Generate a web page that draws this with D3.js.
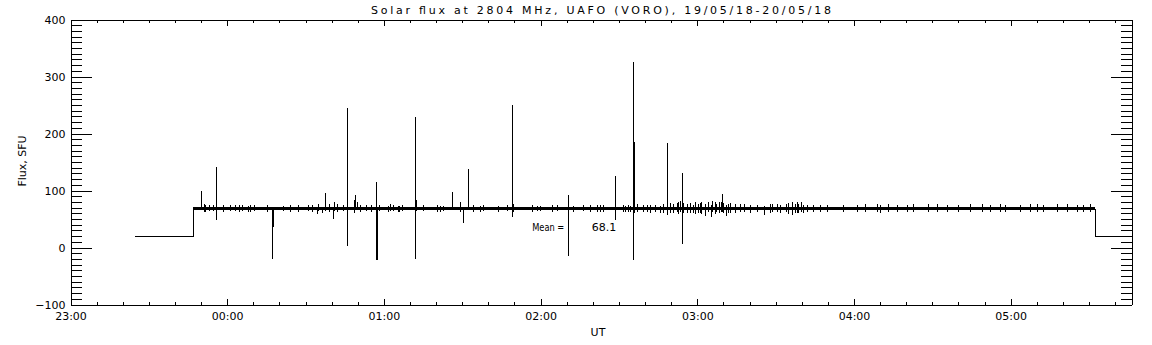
<!DOCTYPE html>
<html>
<head>
<meta charset="utf-8">
<script src="https://cdn.jsdelivr.net/npm/d3@7"></script>
<style>
html,body{margin:0;padding:0;background:#fff;}
svg{display:block;}
text{font-family:"DejaVu Sans",sans-serif;font-size:11px;fill:#000;}
</style>
</head>
<body>
<svg id="chart" width="1152" height="345"></svg>
<script>
// ---------- data ----------
const titleText = "Solar flux at 2804 MHz, UAFO (VORO),  19/05/18-20/05/18";
const xLabel = "UT";
const yLabel = "Flux, SFU";
const meanWord = "Mean =";
const meanValue = "68.1";
const xDomain = ["23:00:00", "05:46:15"];
const yDomain = [-100, 400];
const xTickLabels = ["23:00", "00:00", "01:00", "02:00", "03:00", "04:00", "05:00"];
const yTickValues = [-100, 0, 100, 200, 300, 400];

// step outline of the record
const stepTimes  = ["23:24:18", "23:46:43", "23:46:43", "05:32:05", "05:32:05", "05:46:15"];
const stepValues = [20, 20, 68, 68, 20, 20];

// dense noise band of the quiet level
const bandTimes = ["23:46:43", "05:32:05"];
const bandLow  = [65, 65];
const bandHigh = [71.5, 71.5];

// strong spikes
const spikeTimes = ["23:49:51","23:55:36","23:55:54","00:17:02","00:17:21","00:37:34","00:40:38","00:46:00",
  "00:48:49","00:48:22","00:57:05","00:57:26","01:12:01","01:12:24","01:26:12","01:30:24","01:32:05",
  "01:48:56","02:10:36","02:28:36","02:35:17","02:35:38","02:48:31","02:54:16","03:09:34"];
const spikeHigh = [100,141,95,70,68,95,68,244,92,83,115,68,229,84,97,68,137,250,92,125,325,185,183,130,93];
const spikeLow  = [68,48,62,-20,36,64,50,3,68,60,-22,-22,-21,64,66,43,66,54,-15,48,-22,60,57,6,62];

// small noise excursions around the quiet level
const noiseTimes = ["23:51:07","23:54:41","00:01:04","00:08:44","00:24:03","00:34:16","00:34:53","00:36:11",
  "00:38:59","00:41:01","00:41:56","00:49:42","01:02:20","01:05:47","01:21:29","01:29:08","01:49:19",
  "01:36:48","01:59:47","02:18:55","02:22:45","02:32:18","02:34:14","02:41:54","02:45:43","02:52:07",
  "02:53:23","02:57:13","02:58:29","03:00:10","03:01:26","03:02:58","03:04:14","03:05:23","03:05:45",
  "03:07:08","03:08:25","03:08:57","03:11:07","03:12:31","03:14:26","03:18:00","03:25:39","03:28:43",
  "03:33:57","03:36:08","03:38:03","03:39:35","03:40:35","03:47:00","04:04:20","04:10:00","04:13:08",
  "04:20:11","04:28:28","04:39:56","04:48:54","04:57:49","05:07:23","05:17:37","05:27:47",
  "23:51:30","23:53:09","23:58:31","00:03:00","00:04:38","00:05:33","00:08:05","00:10:16","00:15:21",
  "00:21:31","00:27:14","00:30:49","00:32:21","00:44:28","00:50:58","00:53:09","00:54:56","00:58:14",
  "01:01:41","01:03:36","01:05:31","01:06:49",
  "01:15:05","01:20:14","01:22:46","01:34:14","01:38:04","01:43:49","01:47:01","01:56:36","01:58:31",
  "02:04:15","02:06:10","02:12:31","02:16:21","02:21:28","02:24:01","02:31:40","02:33:35","02:36:47",
  "02:39:20","02:40:37","02:43:48","02:47:00","02:49:33","02:50:49","02:52:44","02:54:39","02:55:56",
  "02:59:07","03:01:02","03:06:46","03:09:58","03:11:53","03:16:22","03:20:11","03:22:44","03:27:50",
  "03:30:23","03:31:40","03:34:51","03:37:24","03:38:40","03:41:52","03:44:25","03:49:32","03:55:55",
  "04:01:02",
  "04:08:42","04:16:24","04:22:43","04:31:40","04:35:30","04:44:26","04:52:05","04:55:55","05:03:34",
  "05:09:56","05:12:29","05:21:26","05:25:16","05:30:23"];
const noiseHigh = [77,74,75,74,75,70,76,70,76,79,76,80,76,73,73,79,77,73,73,74,74,73,73,74,73,78,
  81,78,75,77,79,76,79,75,81,77,79,79,75,78,76,76,72,77,77,79,79,79,74,74,77,74,77,74,77,74,76,74,76,76,74,
  74,75,74,74,75,74,73,74,74,
  73,74,74,75,74,75,74,74,74,
  73,74,73,74,
  74,74,73,74,74,73,74,74,73,
  74,74,73,74,74,75,74,75,76,
  74,75,75,76,78,77,79,78,77,
  79,78,80,78,77,76,75,74,77,
  76,75,78,77,76,75,74,74,74,
  75,
  76,75,76,76,75,76,75,76,75,
  76,75,76,75,76];
const noiseLow  = [62,64,64,63,62,58,64,61,63,64,62,66,64,62,63,62,62,63,64,63,63,62,63,61,61,62,
  63,61,61,60,58,55,62,54,63,62,60,63,55,60,61,62,57,62,62,57,61,62,60,63,63,61,63,62,63,62,63,62,63,63,62,
  63,64,63,64,63,64,63,64,63,
  64,63,64,63,64,63,64,63,64,
  63,64,63,64,
  64,63,64,63,64,63,64,63,64,
  63,64,63,64,63,62,63,62,62,
  63,62,62,61,60,61,59,61,60,
  58,60,59,61,60,62,61,62,60,
  62,61,59,60,61,62,62,63,62,
  63,
  62,63,62,63,62,63,62,63,62,
  63,62,63,62,63];

const meanPos = {time: "01:56:48", value: 29};

// ---------- helpers ----------
function parseT(s) {
  const [h, m, sec] = s.split(":").map(Number);
  const day = h >= 12 ? 19 : 20;
  return new Date(Date.UTC(2018, 4, day, h, m, sec || 0));
}

// ---------- chart ----------
const svg = d3.select("#chart");
const x = d3.scaleUtc().domain(xDomain.map(parseT)).range([70.5, 1131.5]);
const y = d3.scaleLinear().domain(yDomain).range([304.5, 19.5]);

const plot = svg.append("g");
plot.append("clipPath").attr("id", "clip").append("rect")
  .attr("x", 70.5).attr("y", 19.5).attr("width", 1061).attr("height", 285);
const data = plot.append("g").attr("clip-path", "url(#clip)");

// quiet-level band
const bandData = bandTimes.map((t, i) => ({t: parseT(t), lo: bandLow[i], hi: bandHigh[i]}));
data.append("path").datum(bandData)
  .attr("d", d3.area().x(d => x(d.t)).y0(d => y(d.lo)).y1(d => y(d.hi)))
  .attr("fill", "#000").attr("shape-rendering", "crispEdges");

// step outline
const stepData = stepTimes.map((t, i) => ({t: parseT(t), v: stepValues[i]}));
data.append("path").datum(stepData)
  .attr("d", d3.line().x(d => Math.round(x(d.t)) + 0.5).y(d => Math.round(y(d.v)) + 0.5))
  .attr("fill", "none").attr("stroke", "#000").attr("stroke-width", 1)
  .attr("shape-rendering", "crispEdges");

// noise marks
const noiseData = noiseTimes.map((t, i) => ({t: parseT(t), hi: noiseHigh[i], lo: noiseLow[i]}));
data.selectAll("line.noise").data(noiseData).join("line").attr("class", "noise")
  .attr("x1", d => Math.round(x(d.t)) + 0.5).attr("x2", d => Math.round(x(d.t)) + 0.5)
  .attr("y1", d => y(d.hi)).attr("y2", d => y(d.lo))
  .attr("stroke", "#000").attr("stroke-width", 1).attr("shape-rendering", "crispEdges");

// spikes
const spikeData = spikeTimes.map((t, i) => ({t: parseT(t), hi: spikeHigh[i], lo: spikeLow[i]}));
data.selectAll("line.spike").data(spikeData).join("line").attr("class", "spike")
  .attr("x1", d => Math.round(x(d.t)) + 0.5).attr("x2", d => Math.round(x(d.t)) + 0.5)
  .attr("y1", d => y(d.hi)).attr("y2", d => y(d.lo))
  .attr("stroke", "#000").attr("stroke-width", 1).attr("shape-rendering", "crispEdges");

// ---------- axes ----------
const majorX = xTickLabels.map(s => parseT(s + ":00"));
const minorX = x.ticks(d3.utcMinute.every(10));
const minorY = d3.range(yDomain[0], yDomain[1] + 1, 10);

function styleAxis(g) {
  g.selectAll("path.domain").attr("stroke", "#000").attr("shape-rendering", "crispEdges");
  g.selectAll(".tick line").attr("stroke", "#000").attr("shape-rendering", "crispEdges");
  g.selectAll("text").attr("font-family", null).attr("font-size", null).attr("fill", "#000");
}

// bottom
svg.append("g").attr("transform", "translate(0,304.5)")
  .call(d3.axisBottom(x).tickValues(minorX).tickSize(-3).tickSizeOuter(0).tickFormat(""))
  .call(styleAxis);
svg.append("g").attr("transform", "translate(0,304.5)")
  .call(d3.axisBottom(x).tickValues(majorX).tickSize(-6).tickSizeOuter(0).tickPadding(8)
    .tickFormat((d, i) => xTickLabels[i]))
  .call(styleAxis);
// top
svg.append("g").attr("transform", "translate(0,19.5)")
  .call(d3.axisTop(x).tickValues(minorX).tickSize(-3).tickSizeOuter(0).tickFormat(""))
  .call(styleAxis);
svg.append("g").attr("transform", "translate(0,19.5)")
  .call(d3.axisTop(x).tickValues(majorX).tickSize(-6).tickSizeOuter(0).tickFormat(""))
  .call(styleAxis);
// left
svg.append("g").attr("transform", "translate(70.5,0)")
  .call(d3.axisLeft(y).tickValues(minorY).tickSize(-11).tickSizeOuter(0).tickFormat(""))
  .call(styleAxis);
svg.append("g").attr("transform", "translate(70.5,0)")
  .call(d3.axisLeft(y).tickValues(yTickValues).tickSize(-21).tickSizeOuter(0).tickPadding(5))
  .call(styleAxis);
// right
svg.append("g").attr("transform", "translate(1131.5,0)")
  .call(d3.axisRight(y).tickValues(minorY).tickSize(-11).tickSizeOuter(0).tickFormat(""))
  .call(styleAxis);
svg.append("g").attr("transform", "translate(1131.5,0)")
  .call(d3.axisRight(y).tickValues(yTickValues).tickSize(-21).tickSizeOuter(0).tickFormat(""))
  .call(styleAxis);

// ---------- texts ----------
svg.append("text").attr("x", 601).attr("y", 14).attr("text-anchor", "middle")
  .attr("textLength", 460).attr("lengthAdjust", "spacing").text(titleText);
svg.append("text").attr("x", 598).attr("y", 336).attr("text-anchor", "middle").text(xLabel);
svg.append("text").attr("transform", "translate(25.5,161) rotate(-90)")
  .attr("text-anchor", "middle").text(yLabel);
const mx = x(parseT(meanPos.time)), my = y(meanPos.value);
svg.append("text").attr("x", mx).attr("y", my)
  .attr("textLength", 32).attr("lengthAdjust", "spacingAndGlyphs").text(meanWord);
svg.append("text").attr("x", mx + 84).attr("y", my).attr("text-anchor", "end")
  .text(meanValue);
</script>
</body>
</html>
